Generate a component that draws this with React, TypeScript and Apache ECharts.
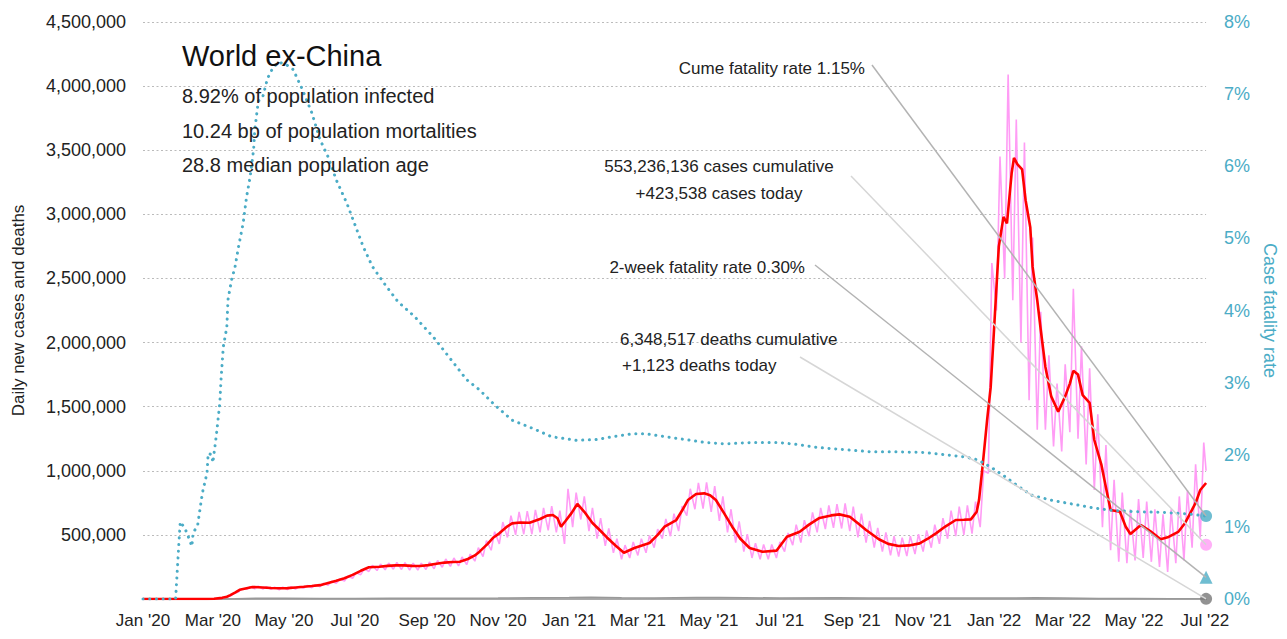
import React, { useEffect, useRef } from "react";
import * as echarts from "echarts";

// ---------- DATA ----------
const monthNames = ["Jan", "Feb", "Mar", "Apr", "May", "Jun", "Jul", "Aug", "Sep", "Oct", "Nov", "Dec"];
const xStart = "2020-01-01";
const xEnd = "2022-07-02";
const xLabelDates = [
  "2020-01-01", "2020-03-01", "2020-05-01", "2020-07-01", "2020-09-01", "2020-11-01",
  "2021-01-01", "2021-03-01", "2021-05-01", "2021-07-01", "2021-09-01", "2021-11-01",
  "2022-01-01", "2022-03-01", "2022-05-01", "2022-07-01",
];

// 7-day average of daily new cases (thousands)
const casesAvg: [string, number][] = [
  ["2020-01-01", 0], ["2020-02-25", 0], ["2020-03-02", 2], ["2020-03-09", 9], ["2020-03-13", 18], ["2020-03-16", 30],
  ["2020-03-20", 50], ["2020-03-24", 72], ["2020-03-30", 84], ["2020-04-04", 94], ["2020-04-13", 90], ["2020-04-20", 86],
  ["2020-04-27", 84], ["2020-05-04", 85], ["2020-05-11", 90], ["2020-05-18", 95], ["2020-05-25", 101], ["2020-06-01", 108],
  ["2020-06-08", 125], ["2020-06-15", 142], ["2020-06-22", 162], ["2020-06-29", 188], ["2020-07-06", 220], ["2020-07-13", 248],
  ["2020-07-22", 252], ["2020-07-29", 258], ["2020-08-05", 262], ["2020-08-12", 262], ["2020-08-19", 258], ["2020-08-26", 257],
  ["2020-09-02", 264], ["2020-09-09", 275], ["2020-09-16", 284], ["2020-09-23", 289], ["2020-09-29", 291], ["2020-10-06", 312],
  ["2020-10-12", 340], ["2020-10-16", 369], ["2020-10-23", 430], ["2020-10-28", 480], ["2020-11-02", 512], ["2020-11-08", 560],
  ["2020-11-13", 590], ["2020-11-20", 596], ["2020-11-28", 595], ["2020-12-07", 624], ["2020-12-13", 650], ["2020-12-18", 655],
  ["2020-12-22", 630], ["2020-12-25", 564], ["2020-12-29", 610], ["2021-01-03", 670], ["2021-01-08", 741], ["2021-01-14", 680],
  ["2021-01-21", 593], ["2021-01-27", 540], ["2021-02-02", 484], ["2021-02-10", 415], ["2021-02-17", 361], ["2021-02-26", 398],
  ["2021-03-11", 437], ["2021-03-18", 500], ["2021-03-24", 564], ["2021-04-03", 616], ["2021-04-08", 690], ["2021-04-13", 772],
  ["2021-04-20", 819], ["2021-04-27", 824], ["2021-05-02", 810], ["2021-05-07", 772], ["2021-05-14", 670], ["2021-05-21", 564],
  ["2021-05-28", 470], ["2021-06-05", 398], ["2021-06-16", 369], ["2021-06-28", 377], ["2021-07-07", 486], ["2021-07-18", 525],
  ["2021-07-26", 580], ["2021-08-04", 632], ["2021-08-14", 652], ["2021-08-21", 660], ["2021-08-30", 642], ["2021-09-06", 590],
  ["2021-09-13", 538], ["2021-09-24", 466], ["2021-10-02", 430], ["2021-10-11", 413], ["2021-10-20", 418], ["2021-10-29", 434],
  ["2021-11-05", 470], ["2021-11-12", 512], ["2021-11-20", 565], ["2021-11-29", 616], ["2021-12-06", 618], ["2021-12-12", 621],
  ["2021-12-17", 680], ["2021-12-19", 772], ["2021-12-22", 1030], ["2021-12-26", 1400], ["2021-12-29", 1650], ["2022-01-01", 2120],
  ["2022-01-05", 2750], ["2022-01-09", 2980], ["2022-01-12", 2930], ["2022-01-16", 3320], ["2022-01-18", 3440], ["2022-01-21", 3390],
  ["2022-01-25", 3350], ["2022-01-28", 3110], ["2022-02-01", 2900], ["2022-02-03", 2590], ["2022-02-07", 2330], ["2022-02-10", 2100],
  ["2022-02-14", 1810], ["2022-02-19", 1580], ["2022-02-25", 1460], ["2022-03-03", 1580], ["2022-03-07", 1680], ["2022-03-10", 1780],
  ["2022-03-14", 1750], ["2022-03-18", 1590], ["2022-03-24", 1530], ["2022-03-28", 1240], ["2022-04-03", 1050], ["2022-04-07", 870],
  ["2022-04-11", 694], ["2022-04-19", 681], ["2022-04-24", 564], ["2022-04-28", 507], ["2022-05-07", 577], ["2022-05-15", 530],
  ["2022-05-24", 466], ["2022-05-30", 481], ["2022-06-08", 523], ["2022-06-14", 593], ["2022-06-19", 680], ["2022-06-23", 749],
  ["2022-06-27", 850], ["2022-07-02", 905],
];

// Daily new cases (thousands): weekly [Monday low, Thursday high], weeks starting Mon 2020-02-24
const dailyWeeksStart = "2020-02-24";
const dailyWeeks: [number, number][] = [
  [0, 1], [1, 4], [6, 15], [22, 42], [55, 80], [76, 96], [80, 100], [78, 96], [76, 93], [72, 92],
  [74, 95], [78, 98], [84, 105], [88, 112], [96, 122], [108, 138], [122, 155], [140, 178], [162, 205], [190, 235],
  [215, 262], [222, 272], [228, 280], [232, 285], [230, 284], [226, 280], [225, 280], [230, 288], [236, 300], [248, 312],
  [254, 320], [258, 328], [268, 350], [295, 400], [330, 455], [380, 525], [430, 600], [480, 650], [500, 680], [505, 685],
  [505, 695], [520, 710], [535, 725], [520, 690], [430, 860], [560, 830], [620, 800], [530, 710], [470, 630], [415, 550],
  [360, 470], [310, 420], [320, 445], [340, 470], [360, 495], [400, 545], [470, 625], [490, 665], [530, 725], [650, 860],
  [700, 905], [705, 910], [680, 880], [610, 800], [520, 700], [440, 605], [370, 505], [320, 435], [310, 425], [310, 425],
  [320, 445], [370, 515], [420, 580], [440, 615], [490, 675], [520, 710], [545, 730], [555, 740], [550, 745], [530, 720],
  [480, 665], [440, 610], [400, 555], [370, 520], [340, 490], [330, 478], [335, 490], [350, 505], [370, 535], [400, 580],
  [430, 630], [470, 690], [490, 720], [500, 730], [510, 760], [560, 1000], [980, 2620], [2250, 3450], [2500, 4090], [2330, 3740],
  [2000, 3560], [1550, 2820], [1320, 2240], [1320, 1900], [1190, 1680], [1150, 1830], [1300, 2420], [1250, 1970], [1050, 1800], [850, 1440],
  [560, 1200], [380, 930], [290, 830], [280, 700], [300, 780], [320, 760], [290, 700], [250, 660], [211, 700], [280, 800],
  [300, 850], [400, 1050], [480, 1220],
];
const dailyLast: [string, number] = ["2022-07-02", 1000];

// Daily deaths (thousands)
const deathsDaily: [string, number][] = [
  ["2020-01-01", 0], ["2020-03-01", 0], ["2020-03-20", 1], ["2020-04-10", 6], ["2020-05-01", 5.5], ["2020-06-01", 4],
  ["2020-07-01", 4.5], ["2020-08-01", 5.5], ["2020-09-01", 5.5], ["2020-10-01", 5.5], ["2020-11-01", 7], ["2020-12-01", 10],
  ["2021-01-01", 11], ["2021-01-20", 14], ["2021-02-15", 10], ["2021-03-15", 8.5], ["2021-04-20", 12], ["2021-05-10", 12],
  ["2021-06-01", 10], ["2021-07-01", 7.5], ["2021-08-20", 9.5], ["2021-09-15", 8.5], ["2021-10-15", 7], ["2021-11-15", 7],
  ["2021-12-15", 7], ["2022-01-15", 7], ["2022-02-05", 10], ["2022-03-01", 8], ["2022-04-01", 4.5], ["2022-05-01", 3],
  ["2022-06-01", 2], ["2022-07-02", 1.5],
];

// Cumulative case fatality rate (%)
const fatalityRate: [string, number][] = [
  ["2020-01-01", 0], ["2020-01-29", 0], ["2020-02-01", 0.82], ["2020-02-02", 1.07], ["2020-02-06", 0.98], ["2020-02-09", 0.86],
  ["2020-02-12", 0.73], ["2020-02-13", 0.91], ["2020-02-17", 1.03], ["2020-02-21", 1.47], ["2020-02-25", 1.75], ["2020-02-26", 2.02],
  ["2020-02-29", 2.0], ["2020-03-01", 1.89], ["2020-03-04", 2.27], ["2020-03-07", 2.72], ["2020-03-08", 3.04], ["2020-03-10", 3.5],
  ["2020-03-13", 3.77], ["2020-03-14", 4.15], ["2020-03-17", 4.42], ["2020-03-20", 4.6], ["2020-03-23", 4.88], ["2020-03-27", 5.21],
  ["2020-03-30", 5.58], ["2020-04-02", 5.85], ["2020-04-05", 6.23], ["2020-04-06", 6.5], ["2020-04-09", 6.9], ["2020-04-13", 6.97],
  ["2020-04-17", 7.22], ["2020-04-22", 7.38], ["2020-04-27", 7.44], ["2020-05-03", 7.41], ["2020-05-09", 7.34], ["2020-05-17", 7.06],
  ["2020-05-25", 6.74], ["2020-06-01", 6.37], ["2020-06-08", 6.13], ["2020-06-15", 5.81], ["2020-06-24", 5.49], ["2020-07-01", 5.19],
  ["2020-07-08", 4.89], ["2020-07-16", 4.61], ["2020-07-25", 4.4], ["2020-08-07", 4.12], ["2020-08-21", 3.92], ["2020-09-07", 3.62],
  ["2020-09-21", 3.33], ["2020-10-05", 3.04], ["2020-10-16", 2.9], ["2020-10-29", 2.69], ["2020-11-13", 2.48], ["2020-11-30", 2.37],
  ["2020-12-17", 2.25], ["2021-01-07", 2.2], ["2021-01-24", 2.21], ["2021-02-07", 2.25], ["2021-02-24", 2.29], ["2021-03-08", 2.29],
  ["2021-03-25", 2.25], ["2021-04-11", 2.21], ["2021-04-28", 2.17], ["2021-05-15", 2.15], ["2021-06-07", 2.17], ["2021-06-30", 2.17],
  ["2021-07-17", 2.14], ["2021-08-03", 2.1], ["2021-08-26", 2.07], ["2021-09-18", 2.04], ["2021-10-11", 2.04], ["2021-11-03", 2.03],
  ["2021-11-20", 2.0], ["2021-12-07", 1.97], ["2021-12-18", 1.93], ["2021-12-29", 1.83], ["2022-01-10", 1.7], ["2022-01-22", 1.56],
  ["2022-02-02", 1.44], ["2022-02-19", 1.37], ["2022-03-08", 1.32], ["2022-03-25", 1.27], ["2022-04-11", 1.23], ["2022-05-04", 1.21],
  ["2022-05-27", 1.2], ["2022-06-16", 1.18], ["2022-07-02", 1.15],
];

const cumeFatalityRate = 1.15;
const twoWeekFatalityRate = 0.3;
const casesCumulative = 553236136;
const casesToday = 423538;
const deathsCumulative = 6348517;
const deathsToday = 1123;

const titleText = "World ex-China";
const statLines = ["8.92% of population infected", "10.24 bp of population mortalities", "28.8 median population age"];

const leftTicks = { min: 0, max: 4500000, interval: 500000 };
const rightTicks = { min: 0, max: 8, interval: 1 };

// ---------- HELPERS ----------
const FONT = "'Liberation Sans', Arial, sans-serif";
const CYAN = "#4bacc6";
const PINK = "#ff9cf5";
const DAY = 86400000;
const toDate = (s: string) => {
  const [y, m, d] = s.split("-").map(Number);
  return new Date(Date.UTC(y, m - 1, d));
};
const T0 = toDate(xStart).getTime();
// x values are days since the first day of the axis
const dayOf = (s: string) => Math.round((toDate(s).getTime() - T0) / DAY);
const dateOfDay = (n: number) => new Date(T0 + n * DAY);
const fmt = (n: number) => n.toLocaleString("en-US");

export default function App() {
  const ref = useRef<HTMLDivElement>(null);

  useEffect(() => {
    document.body.style.margin = "0";
    if (!ref.current) return;
    const chart = echarts.init(ref.current, undefined, { renderer: "svg" });

    const endX = dayOf(xEnd);
    const week0 = dayOf(dailyWeeksStart);
    const dailyData: [number, number][] = [[0, 0]];
    dailyWeeks.forEach(([lo, hi], i) => {
      dailyData.push([week0 + 7 * i, lo * 1000], [week0 + 7 * i + 3, hi * 1000]);
    });
    dailyData.push([dayOf(dailyLast[0]), dailyLast[1] * 1000]);

    const option: any = {
      animation: false,
      textStyle: { fontFamily: FONT },
      grid: { left: 143, right: 80, top: 22, bottom: 40 },
      xAxis: {
        type: "value",
        min: 0,
        max: endX,
        axisLine: { onZero: false, lineStyle: { color: "#aaaaaa", width: 2 } },
        axisTick: { show: false },
        splitLine: { show: false },
        axisLabel: {
          customValues: xLabelDates.map(dayOf),
          formatter: (v: number) => {
            const d = dateOfDay(v);
            return `${monthNames[d.getUTCMonth()]} '${String(d.getUTCFullYear()).slice(2)}`;
          },
          color: "#222",
          fontSize: 17,
          fontFamily: FONT,
          margin: 13,
          hideOverlap: false,
        },
      },
      yAxis: [
        {
          type: "value",
          position: "left",
          ...leftTicks,
          axisLine: { show: false },
          axisTick: { show: false },
          axisLabel: {
            formatter: (v: number) => (v === 0 ? "" : fmt(v)),
            color: "#222",
            fontSize: 18,
            fontFamily: FONT,
            margin: 17,
          },
          splitLine: { lineStyle: { color: "#bbbbbb", type: [2, 2.5], width: 1 } },
          name: "Daily new cases and deaths",
          nameLocation: "middle",
          nameGap: 116,
          nameTextStyle: { color: "#222", fontSize: 17, fontFamily: FONT },
        },
        {
          type: "value",
          position: "right",
          ...rightTicks,
          axisLine: { show: false },
          axisTick: { show: false },
          splitLine: { show: false },
          axisLabel: {
            formatter: (v: number) => `${v}%`,
            color: CYAN,
            fontSize: 18,
            fontFamily: FONT,
            margin: 18,
          },
          name: "Case fatality rate",
          nameLocation: "middle",
          nameRotate: -90,
          nameGap: 52,
          nameTextStyle: { color: CYAN, fontSize: 18, fontFamily: FONT },
        },
      ],
      series: [
        {
          type: "line",
          name: "deaths",
          yAxisIndex: 0,
          data: deathsDaily.map(([d, v]) => [dayOf(d), v * 1000]),
          showSymbol: false,
          lineStyle: { color: "#999999", width: 1.5 },
          z: 2,
        },
        {
          type: "line",
          name: "daily cases",
          yAxisIndex: 0,
          data: dailyData,
          showSymbol: false,
          lineStyle: { color: PINK, width: 1.6 },
          z: 3,
        },
        {
          type: "line",
          name: "7-day average",
          yAxisIndex: 0,
          data: casesAvg.map(([d, v]) => [dayOf(d), v * 1000]),
          showSymbol: false,
          lineStyle: { color: "#ff0000", width: 2.6 },
          z: 4,
        },
        {
          type: "line",
          name: "case fatality rate",
          yAxisIndex: 1,
          data: fatalityRate.map(([d, v]) => [dayOf(d), v]),
          showSymbol: false,
          lineStyle: { color: CYAN, width: 3, type: [0.1, 6.6], cap: "round" },
          z: 5,
        },
        {
          type: "scatter",
          yAxisIndex: 1,
          data: [[endX, cumeFatalityRate]],
          symbol: "circle",
          symbolSize: 12,
          itemStyle: { color: CYAN },
          z: 10,
        },
        {
          type: "scatter",
          yAxisIndex: 1,
          data: [[endX, twoWeekFatalityRate]],
          symbol: "triangle",
          symbolSize: 13,
          itemStyle: { color: CYAN },
          z: 10,
        },
        {
          type: "scatter",
          yAxisIndex: 0,
          data: [[endX, casesToday]],
          symbol: "circle",
          symbolSize: 12,
          itemStyle: { color: PINK },
          z: 10,
        },
        {
          type: "scatter",
          yAxisIndex: 0,
          data: [[endX, deathsToday]],
          symbol: "circle",
          symbolSize: 12,
          itemStyle: { color: "#777777" },
          z: 10,
        },
      ],
    };
    chart.setOption(option);

    const pCume = chart.convertToPixel({ xAxisIndex: 0, yAxisIndex: 1 }, [endX, cumeFatalityRate]) as number[];
    const pTwo = chart.convertToPixel({ xAxisIndex: 0, yAxisIndex: 1 }, [endX, twoWeekFatalityRate]) as number[];
    const pCases = chart.convertToPixel({ xAxisIndex: 0, yAxisIndex: 0 }, [endX, casesToday]) as number[];
    const pDeaths = chart.convertToPixel({ xAxisIndex: 0, yAxisIndex: 0 }, [endX, deathsToday]) as number[];

    const txt = (text: string, x: number, y: number, size: number, align: string, color = "#222") => ({
      type: "text",
      x,
      y,
      z: 20,
      style: { text, fill: color, font: `${size}px ${FONT}`, align, verticalAlign: "middle" },
    });
    const leader = (x1: number, y1: number, p: number[], color: string) => ({
      type: "line",
      z: 15,
      shape: { x1, y1, x2: p[0], y2: p[1] },
      style: { stroke: color, lineWidth: 1.5 },
    });

    chart.setOption({
      graphic: [
        leader(872, 65, pCume, "#b3b3b3"),
        leader(851, 176, pCases, "#d6d6d6"),
        leader(815, 265, pTwo, "#b3b3b3"),
        leader(800, 357, pDeaths, "#d6d6d6"),
        txt(titleText, 182, 56, 29, "left", "#111"),
        txt(statLines[0], 182, 96, 20, "left"),
        txt(statLines[1], 182, 130.5, 20, "left"),
        txt(statLines[2], 182, 165, 20, "left"),
        txt(`Cume fatality rate ${cumeFatalityRate.toFixed(2)}%`, 865, 68, 17, "right"),
        txt(`${fmt(casesCumulative)} cases cumulative`, 719, 166, 17, "center"),
        txt(`+${fmt(casesToday)} cases today`, 719, 193, 17, "center"),
        txt(`2-week fatality rate ${twoWeekFatalityRate.toFixed(2)}%`, 805, 267, 17, "right"),
        txt(`${fmt(deathsCumulative)} deaths cumulative`, 620, 339, 17, "left"),
        txt(`+${fmt(deathsToday)} deaths today`, 622, 365, 17, "left"),
      ],
    });

    return () => chart.dispose();
  }, []);

  return <div ref={ref} style={{ width: 1287, height: 639 }} />;
}
